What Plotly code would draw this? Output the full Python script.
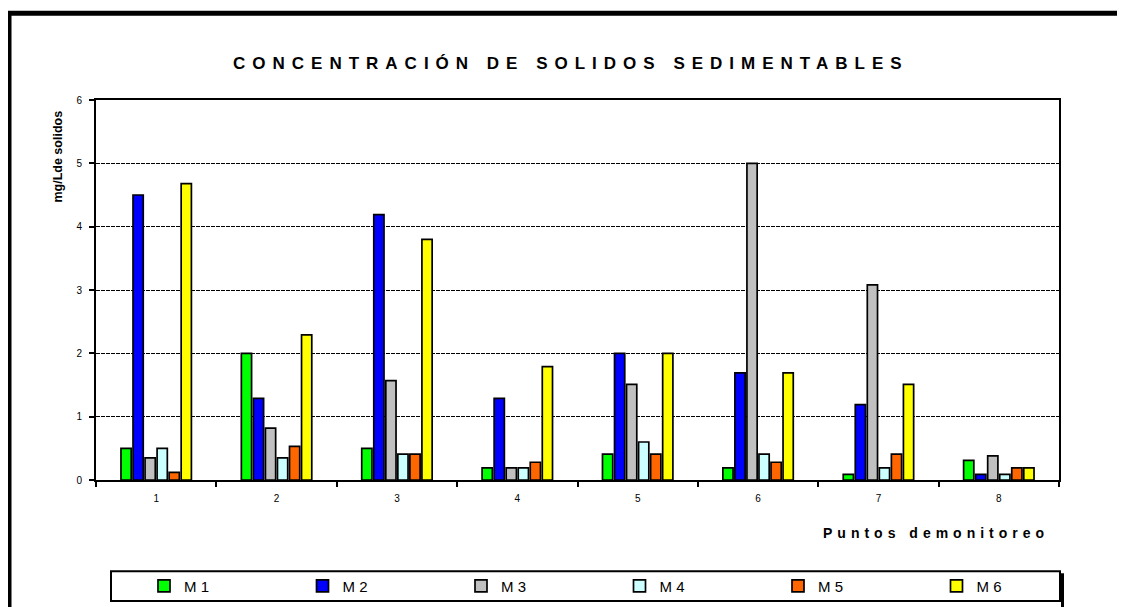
import plotly.graph_objects as go

categories = ["1", "2", "3", "4", "5", "6", "7", "8"]
series_names = ["M 1", "M 2", "M 3", "M 4", "M 5", "M 6"]
m1 = [0.5, 2.0, 0.5, 0.19, 0.41, 0.19, 0.09, 0.31]
m2 = [4.5, 1.29, 4.19, 1.29, 2.0, 1.69, 1.19, 0.09]
m3 = [0.35, 0.82, 1.57, 0.19, 1.51, 5.0, 3.08, 0.38]
m4 = [0.5, 0.35, 0.41, 0.19, 0.6, 0.41, 0.19, 0.09]
m5 = [0.12, 0.53, 0.41, 0.28, 0.41, 0.28, 0.41, 0.19]
m6 = [4.68, 2.29, 3.8, 1.79, 2.0, 1.69, 1.51, 0.19]
series_values = [m1, m2, m3, m4, m5, m6]
colors = ["#00FF00", "#0000FF", "#C0C0C0", "#CCFFFF", "#FF6600", "#FFFF00"]

W, H = 1125, 607
OFF = 8  # page body margin
L, R, T, B = 96, 1059, 100, 483  # plot area in page pixels


def px(x):
    return (x - L) / (R - L)


def py(y):
    return (B - y) / (B - T)


fig = go.Figure()
for name, vals, col in zip(series_names, series_values, colors):
    fig.add_trace(go.Bar(
        x=categories, y=vals, name=name,
        marker=dict(color=col, line=dict(color="black", width=1.7)),
    ))

font_family = "Liberation Sans, Arial, sans-serif"

fig.update_layout(
    width=W, height=H,
    margin=dict(l=L - OFF, r=W - (R - OFF), t=T - OFF, b=H - (B - OFF), pad=0),
    paper_bgcolor="white", plot_bgcolor="white",
    barmode="group", bargap=0.4, bargroupgap=0.15,
    font=dict(family=font_family, color="black"),
    showlegend=True,
    legend=dict(
        orientation="h", x=px(144), y=py(590), xanchor="left", yanchor="middle",
        entrywidth=113.5, entrywidthmode="pixels",
        bgcolor="rgba(0,0,0,0)", borderwidth=0,
        font=dict(family="Liberation Sans Narrow, Arial Narrow, Liberation Sans, Arial", size=15, color="black"),
        itemwidth=30, traceorder="normal",
    ),
    xaxis=dict(
        type="category", categoryorder="array", categoryarray=categories,
        showline=True, linecolor="black", linewidth=2, mirror=True,
        ticks="outside", tickson="boundaries", ticklen=5, tickwidth=1.5, tickcolor="black",
        tickfont=dict(size=10, family=font_family), showgrid=False,
        ticklabelstandoff=8,
    ),
    yaxis=dict(
        range=[0, 6], dtick=1, tick0=0,
        showline=True, linecolor="black", linewidth=2, mirror=True,
        ticks="outside", ticklen=5, tickwidth=1.5, tickcolor="black",
        tickfont=dict(size=10, family=font_family),
        ticklabelstandoff=5,
        showgrid=True, gridcolor="black", gridwidth=1, griddash="4px,1px",
        zeroline=False,
    ),
    annotations=[
        dict(text='<span style="letter-spacing:7px">CONCENTRACIÓN DE SOLIDOS SEDIMENTABLES</span>',
             x=px(571), y=py(63), xref="paper", yref="paper",
             xanchor="center", yanchor="middle", showarrow=False,
             font=dict(size=17, family=font_family, weight="bold")),
        dict(text='<span style="letter-spacing:5px">Puntos demonitoreo</span>',
             x=px(936), y=py(536), xref="paper", yref="paper",
             xanchor="center", yanchor="middle", showarrow=False,
             font=dict(size=14, family=font_family, weight="bold")),
        dict(text="mg/Lde solidos", textangle=-90,
             x=px(58), y=py(157), xref="paper", yref="paper",
             xanchor="center", yanchor="middle", showarrow=False,
             font=dict(size=12.5, family=font_family, weight="bold")),
    ],
    shapes=[
        # outer frame (top and left visible)
        dict(type="rect", xref="paper", yref="paper",
             x0=px(9), x1=px(1150), y0=py(12.5), y1=py(650),
             line=dict(color="black", width=5), fillcolor="rgba(0,0,0,0)", layer="above"),
        # legend box
        dict(type="rect", xref="paper", yref="paper",
             x0=px(111), x1=px(1060), y0=py(575), y1=py(605),
             line=dict(color="black", width=2), fillcolor="white", layer="below"),
        # legend box shadow
        dict(type="line", xref="paper", yref="paper",
             x0=px(1062.5), x1=px(1062.5), y0=py(577), y1=py(612),
             line=dict(color="black", width=3)),
    ],
)

fig.write_html("out.html")
